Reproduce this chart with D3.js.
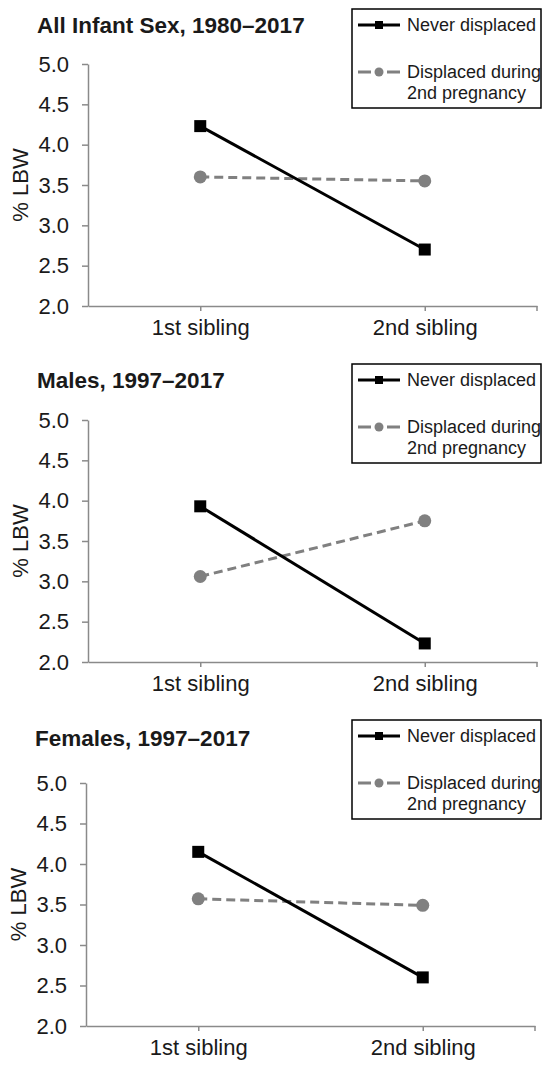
<!DOCTYPE html>
<html lang="en">
<head>
    <meta charset="UTF-8">
    <title>% LBW by sibling and displacement</title>
    <script src="https://cdn.jsdelivr.net/npm/d3@7"></script>
    <style>
        body { margin: 0; background: #fff; }
        svg text { font-family: "Liberation Sans", Arial, sans-serif; fill: #1a1a1a; }
    </style>
</head>
<body>
    <div id="graphic"></div>

    <script>
        // Data
        var categories = ["1st sibling", "2nd sibling"];
        var panelTitles = ["All Infant Sex, 1980\u20132017", "Males, 1997\u20132017", "Females, 1997\u20132017"];
        var neverDisplaced = [[4.23, 2.70], [3.93, 2.23], [4.15, 2.60]];
        var displacedDuring = [[3.60, 3.55], [3.06, 3.75], [3.57, 3.49]];
        var yTicks = [2.0, 2.5, 3.0, 3.5, 4.0, 4.5, 5.0];
        var yDomain = [2.0, 5.0];
        var seriesLabels = [["Never displaced"], ["Displaced during", "2nd pregnancy"]];
        var yLabel = "% LBW";

        var width = 545;
        var height = 1066;

        // Where each panel sits on the page
        var panels = [
            { top: 64,  bottom: 306,  titleY: 33,  legendTop: 9,   dx: 0 },
            { top: 420, bottom: 662,  titleY: 388, legendTop: 364, dx: 0 },
            { top: 783, bottom: 1026, titleY: 746, legendTop: 720, dx: -2 }
        ];

        var black = "#000";
        var grey = "#808080";
        var axisGrey = "#8a8a8a";

        var svg = d3.select('#graphic')
                    .append('svg')
                    .attr('width', width)
                    .attr('height', height);

        panels.forEach(function(p, i) {
            var left = 88 + p.dx;
            var right = 537 + p.dx;

            var g = svg.append('g');

            var x = d3.scalePoint()
                      .domain(categories)
                      .range([left, right])
                      .padding(0.5);

            var y = d3.scaleLinear()
                      .domain(yDomain)
                      .range([p.bottom, p.top]);

            // Title
            g.append('text')
             .attr('x', 37 + p.dx)
             .attr('y', p.titleY)
             .attr('font-size', 22.5)
             .attr('font-weight', 'bold')
             .text(panelTitles[i]);

            // Y axis
            var yAxis = g.append('g')
                         .attr('transform', 'translate(' + left + ',0)')
                         .call(d3.axisLeft(y)
                                 .tickValues(yTicks)
                                 .tickFormat(d3.format('.1f'))
                                 .tickSize(6)
                                 .tickSizeOuter(0)
                                 .tickPadding(13));
            yAxis.select('.domain').attr('stroke', axisGrey).attr('stroke-width', 1.5);
            yAxis.selectAll('.tick line').attr('stroke', axisGrey).attr('stroke-width', 1.5);
            yAxis.selectAll('.tick text')
                 .attr('font-size', 22)
                 .attr('font-family', '"Liberation Sans", Arial, sans-serif')
                 .attr('fill', '#1a1a1a');

            // X axis
            var xAxis = g.append('g')
                         .attr('transform', 'translate(0,' + p.bottom + ')')
                         .call(d3.axisBottom(x)
                                 .tickSize(5)
                                 .tickSizeOuter(0)
                                 .tickPadding(8));
            xAxis.select('.domain').attr('stroke', axisGrey).attr('stroke-width', 1.5);
            xAxis.selectAll('.tick line').attr('stroke', axisGrey).attr('stroke-width', 1.5);
            xAxis.selectAll('.tick text')
                 .attr('font-size', 22)
                 .attr('font-family', '"Liberation Sans", Arial, sans-serif')
                 .attr('fill', '#1a1a1a');
            // end tick on the right
            xAxis.append('line')
                 .attr('x1', right).attr('x2', right)
                 .attr('y1', 0).attr('y2', 5)
                 .attr('stroke', axisGrey).attr('stroke-width', 1.5);

            // Y label
            g.append('text')
             .attr('transform', 'translate(' + (28 + p.dx) + ',' + ((p.top + p.bottom) / 2) + ') rotate(-90)')
             .attr('text-anchor', 'middle')
             .attr('font-size', 22)
             .text(yLabel);

            var line = d3.line()
                         .x(function(d, j) { return x(categories[j]); })
                         .y(function(d) { return y(d); });

            // Displaced series (grey dashed, circles)
            g.append('path')
             .datum(displacedDuring[i])
             .attr('d', line)
             .attr('fill', 'none')
             .attr('stroke', grey)
             .attr('stroke-width', 3)
             .attr('stroke-dasharray', '9,5');
            g.selectAll('.dot')
             .data(displacedDuring[i])
             .join('circle')
             .attr('class', 'dot')
             .attr('cx', function(d, j) { return x(categories[j]); })
             .attr('cy', function(d) { return y(d); })
             .attr('r', 6.5)
             .attr('fill', grey);

            // Never displaced series (black solid, squares)
            g.append('path')
             .datum(neverDisplaced[i])
             .attr('d', line)
             .attr('fill', 'none')
             .attr('stroke', black)
             .attr('stroke-width', 3);
            g.selectAll('.sq')
             .data(neverDisplaced[i])
             .join('rect')
             .attr('class', 'sq')
             .attr('x', function(d, j) { return x(categories[j]) - 6; })
             .attr('y', function(d) { return y(d) - 6; })
             .attr('width', 12)
             .attr('height', 12)
             .attr('fill', black);

            // Legend
            var lg = g.append('g').attr('transform', 'translate(352,' + p.legendTop + ')');
            lg.append('rect')
              .attr('x', 0).attr('y', 0)
              .attr('width', 189).attr('height', 99)
              .attr('fill', '#fff')
              .attr('stroke', black)
              .attr('stroke-width', 1.5);

            // never displaced entry
            lg.append('line')
              .attr('x1', 6).attr('x2', 48)
              .attr('y1', 16).attr('y2', 16)
              .attr('stroke', black).attr('stroke-width', 3);
            lg.append('rect')
              .attr('x', 23).attr('y', 12)
              .attr('width', 8).attr('height', 8)
              .attr('fill', black);

            // displaced entry
            lg.append('line')
              .attr('x1', 6).attr('x2', 48)
              .attr('y1', 63).attr('y2', 63)
              .attr('stroke', grey).attr('stroke-width', 3)
              .attr('stroke-dasharray', '13,16');
            lg.append('circle')
              .attr('cx', 27).attr('cy', 63)
              .attr('r', 4.5)
              .attr('fill', grey);

            var entryY = [16, 63];
            seriesLabels.forEach(function(lines, k) {
                var t = lg.append('text')
                          .attr('x', 55)
                          .attr('y', entryY[k])
                          .attr('dy', '0.35em')
                          .attr('font-size', 18);
                lines.forEach(function(s, m) {
                    t.append('tspan')
                     .attr('x', 55)
                     .attr('dy', m === 0 ? '0.35em' : '1.17em')
                     .text(s);
                });
            });
        });
    </script>
</body>
</html>
